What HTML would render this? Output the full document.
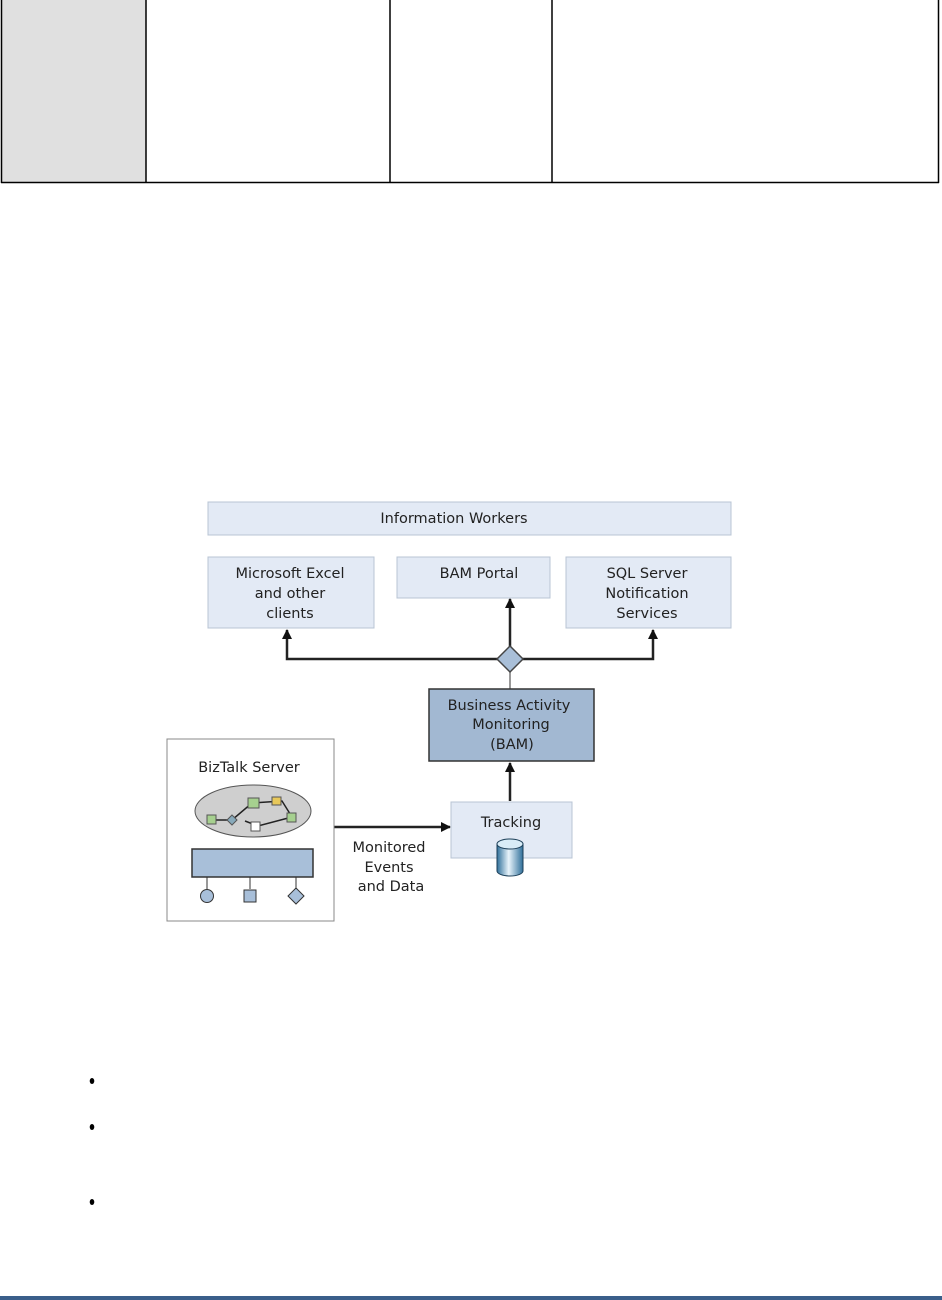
<!DOCTYPE html>
<html><head><meta charset="utf-8"><style>
html,body{margin:0;padding:0;background:#fff;}
body{width:942px;height:1300px;position:relative;overflow:hidden;font-family:"DejaVu Sans","Liberation Sans",sans-serif;}
</style></head><body>
<svg width="942" height="1300" viewBox="0 0 942 1300" xmlns="http://www.w3.org/2000/svg" style="position:absolute;left:0;top:0">
<defs>
<marker id="ah" markerWidth="10" markerHeight="10" refX="9" refY="5" orient="auto" markerUnits="userSpaceOnUse"><path d="M0,0 L10,5 L0,10z" fill="#111"/></marker>
<linearGradient id="cyl" x1="0" x2="1"><stop offset="0" stop-color="#2f6f9a"/><stop offset="0.45" stop-color="#e8f4fb"/><stop offset="1" stop-color="#2f6f9a"/></linearGradient>
</defs>
<rect x="2" y="0" width="144" height="182" fill="#e0e0e0"/>
<g stroke="#000" stroke-width="1.5" fill="none">
<line x1="1.5" y1="0" x2="1.5" y2="183"/>
<line x1="146" y1="0" x2="146" y2="183"/>
<line x1="390" y1="0" x2="390" y2="183"/>
<line x1="552" y1="0" x2="552" y2="183"/>
<line x1="938.5" y1="0" x2="938.5" y2="183"/>
<line x1="1" y1="182.5" x2="939" y2="182.5"/>
</g>
<g font-size="14.5" fill="#222" text-anchor="middle">
<rect x="208" y="502" width="523" height="33" fill="#e3eaf5" stroke="#b8c4d4"/>
<text x="454" y="523">Information Workers</text>
<rect x="208" y="557" width="166" height="71" fill="#e3eaf5" stroke="#b8c4d4"/>
<text x="290" y="578">Microsoft Excel</text><text x="290" y="598">and other</text><text x="290" y="618">clients</text>
<rect x="397" y="557" width="153" height="41" fill="#e3eaf5" stroke="#b8c4d4"/>
<text x="479" y="578">BAM Portal</text>
<rect x="566" y="557" width="165" height="71" fill="#e3eaf5" stroke="#b8c4d4"/>
<text x="647" y="578">SQL Server</text><text x="647" y="598">Notification</text><text x="647" y="618">Services</text>
</g>
<g stroke="#222" stroke-width="2.5" fill="none">
<polyline points="510,659 287,659 287,630" marker-end="url(#ah)"/>
<polyline points="510,659 653,659 653,630" marker-end="url(#ah)"/>
<line x1="510" y1="659" x2="510" y2="599" marker-end="url(#ah)"/>
<line x1="510" y1="801" x2="510" y2="763" marker-end="url(#ah)"/>
<line x1="334" y1="827" x2="450" y2="827" marker-end="url(#ah)"/>
</g>
<line x1="510" y1="672" x2="510" y2="689" stroke="#777" stroke-width="1.5"/>
<polygon points="510,646 523,659 510,672 497,659" fill="#a9bfd8" stroke="#444" stroke-width="1.5"/>
<rect x="429" y="689" width="165" height="72" fill="#a2b8d2" stroke="#333" stroke-width="1.5"/>
<g font-size="14.5" fill="#222" text-anchor="middle">
<text x="509" y="710">Business Activity</text><text x="511" y="729">Monitoring</text><text x="512" y="749">(BAM)</text>
</g>
<rect x="451" y="802" width="121" height="56" fill="#e3eaf5" stroke="#b8c4d4"/>
<text x="511" y="827" font-size="14.5" fill="#222" text-anchor="middle">Tracking</text>
<path d="M497,844 L497,871 A13,5 0 0 0 523,871 L523,844 Z" fill="url(#cyl)" stroke="#1b3e57"/>
<ellipse cx="510" cy="844" rx="13" ry="5" fill="#d8ecf7" stroke="#1b3e57"/>
<rect x="167" y="739" width="167" height="182" fill="#fff" stroke="#888"/>
<text x="249" y="772" font-size="14.5" fill="#222" text-anchor="middle">BizTalk Server</text>
<ellipse cx="253" cy="811" rx="58" ry="26" fill="#cfcfcf" stroke="#555"/>
<g stroke="#222" stroke-width="1.5" fill="none"><polyline points="212,820 232,820 252,803 282,801 292,817 258,826 245,821"/></g>
<rect x="207" y="815" width="9" height="9" fill="#a6d08f" stroke="#555"/>
<polygon points="232,815 237,820 232,825 227,820" fill="#8ab" stroke="#555"/>
<rect x="248" y="798" width="11" height="10" fill="#a6d08f" stroke="#555"/>
<rect x="272" y="797" width="9" height="8" fill="#e8c85a" stroke="#555"/>
<rect x="287" y="813" width="9" height="9" fill="#a6d08f" stroke="#555"/>
<rect x="251" y="822" width="9" height="9" fill="#fff" stroke="#555"/>
<rect x="192" y="849" width="121" height="28" fill="#a8bfd9" stroke="#333" stroke-width="1.5"/>
<g stroke="#333" stroke-width="1"><line x1="207" y1="877" x2="207" y2="889"/><line x1="250" y1="877" x2="250" y2="889"/><line x1="296" y1="877" x2="296" y2="888"/></g>
<circle cx="207" cy="896" r="6.5" fill="#a8bfd9" stroke="#333"/>
<rect x="244" y="890" width="12" height="12" fill="#a8bfd9" stroke="#333"/>
<polygon points="296,888 304,896 296,904 288,896" fill="#a8bfd9" stroke="#333"/>
<g font-size="14.5" fill="#222" text-anchor="middle">
<text x="389" y="852">Monitored</text><text x="389" y="872">Events</text><text x="391" y="891">and Data</text>
</g>
<g fill="#000"><ellipse cx="92" cy="1081" rx="2.3" ry="3"/><ellipse cx="92" cy="1127" rx="2.3" ry="3"/><ellipse cx="92" cy="1202" rx="2.3" ry="3"/></g>
<rect x="0" y="1296" width="942" height="4" fill="#3a5f8a"/>
</svg>
</body></html>
